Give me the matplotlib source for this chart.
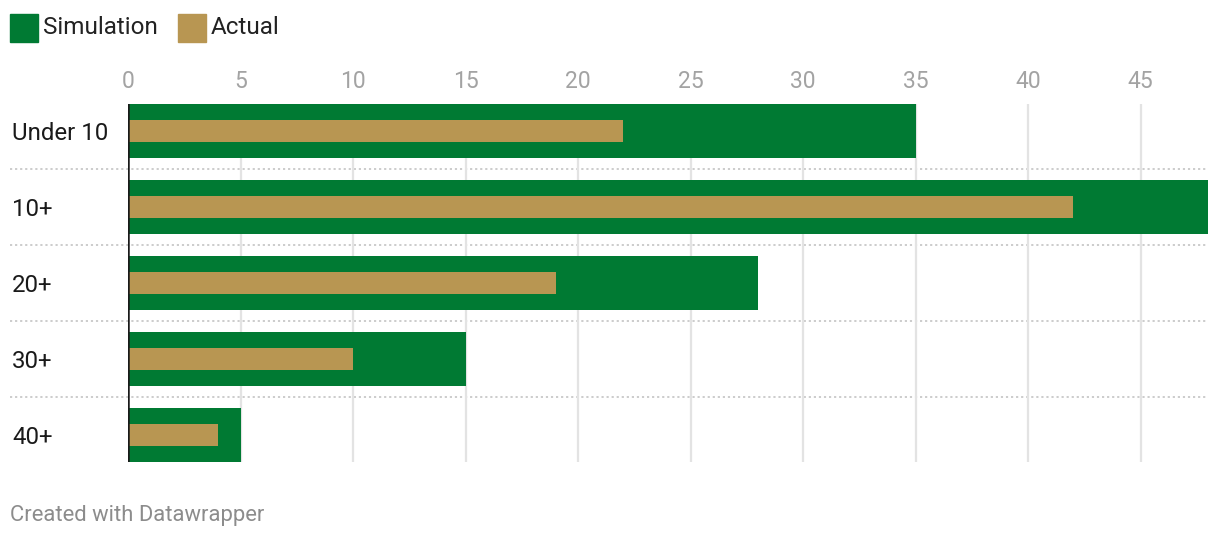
import matplotlib.pyplot as plt
from matplotlib.patches import Rectangle
import matplotlib.transforms as mtransforms

plt.rcParams['font.family'] = ['Roboto', 'DejaVu Sans']

categories = ["Under 10", "10+", "20+", "30+", "40+"]
simulation = [35, 48, 28, 15, 5]
actual = [22, 42, 19, 10, 4]
series_names = ["Simulation", "Actual"]
xticks = [0, 5, 10, 15, 20, 25, 30, 35, 40, 45]

green = "#007a33"
gold = "#b89652"

fig = plt.figure(figsize=(12.2, 5.4), dpi=100)
W, H = 1220, 540
ax = fig.add_axes([128 / W, (H - 462) / H, 1080 / W, 358 / H])

pos = list(range(len(categories)))
ax.barh(pos, simulation, height=54 / 76, color=green, zorder=2)
ax.barh(pos, actual, height=22 / 76, color=gold, zorder=3)

ax.set_xlim(0, 48)
ax.set_ylim(len(categories) - 1 + 27 / 76, -27 / 76)

ax.xaxis.tick_top()
ax.set_xticks(xticks)
ax.set_xticklabels([str(t) for t in xticks], color="#a3a3a3", fontsize=16.5)
ax.tick_params(axis='x', length=0, pad=8)
ax.grid(axis='x', color="#e3e3e3", linewidth=1.6, zorder=0)

ax.set_yticks(pos)
ax.set_yticklabels(categories, fontsize=17.3, color="#1a1a1a", ha='left')
ax.tick_params(axis='y', length=0, pad=116 / 100 * 72)

for s in ax.spines.values():
    s.set_visible(False)
ax.axvline(0, color="#1a1a1a", linewidth=1.8, zorder=4)

# dotted row separators, running into the label column
trans = mtransforms.blended_transform_factory(ax.transAxes, ax.transData)
for i in range(len(categories) - 1):
    ax.plot([-118 / 1080, 1.0], [i + 0.5, i + 0.5], transform=trans,
            color="#c8c8c8", linestyle=(0, (1.2, 1.6)), linewidth=1.3,
            clip_on=False, zorder=1)

# legend
colors = [green, gold]
lx = [10, 178]
for name, c, x in zip(series_names, colors, lx):
    fig.patches.append(Rectangle((x / W, (H - 42) / H), 28 / W, 28 / H,
                                 transform=fig.transFigure, color=c))
    fig.text((x + 33) / W, (H - 27) / H, name, fontsize=17.5,
             color="#222222", va='center')

fig.text(10 / W, (H - 515) / H, "Created with Datawrapper", fontsize=15.8,
         color="#8c8c8c", va='center')

fig.savefig("out.png", dpi=100)
